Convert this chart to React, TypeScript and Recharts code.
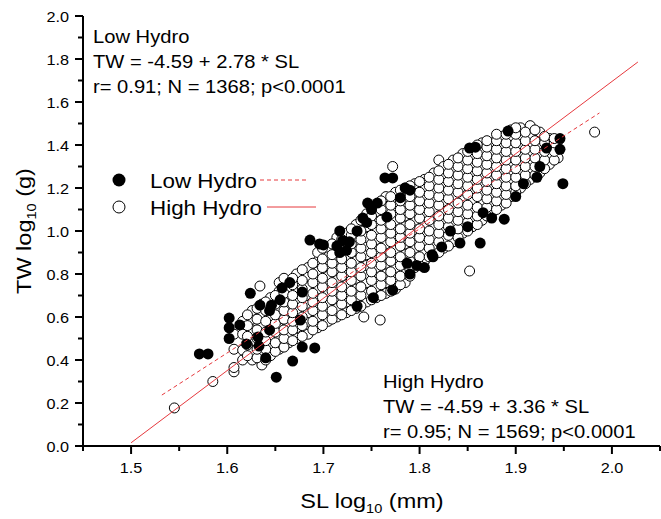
import { ScatterChart, Scatter, XAxis, YAxis } from 'recharts';

const FONT = '"Liberation Sans", Arial, Helvetica, sans-serif';
const RED = '#e6383d';
const SX = 1.12; // the reference type is a little wide

// High Hydro (open circles): x column -> y values
const highCols: [number, number[]][] = [
  [1.545, [0.177]],
  [1.585, [0.30]],
  [1.607, [0.345, 0.365, 0.45, 0.52]],
  [1.616, [0.40, 0.446, 0.52, 0.58]],
  [1.626, [0.40, 0.44, 0.49, 0.54, 0.59, 0.63]],
  [1.634, [0.744]],
  [1.636, [0.377, 0.43, 0.47, 0.52, 0.56, 0.61, 0.66]],
  [1.645, [0.42, 0.47, 0.51, 0.55, 0.60, 0.65, 0.69]],
  [1.654, [0.45, 0.50, 0.55, 0.59, 0.63, 0.68, 0.72, 0.76]],
  [1.664, [0.48, 0.52, 0.57, 0.61, 0.65, 0.69, 0.74]],
  [1.672, [0.50, 0.55, 0.59, 0.63, 0.68, 0.72, 0.76, 0.80]],
  [1.684, [0.52, 0.58, 0.62, 0.66, 0.70, 0.74, 0.79, 0.83]],
  [1.694, [0.55, 0.60, 0.64, 0.68, 0.73, 0.77, 0.81, 0.86, 0.90]],
  [1.705, [0.58, 0.62, 0.66, 0.71, 0.75, 0.79, 0.84, 0.88]],
  [1.714, [0.60, 0.64, 0.69, 0.73, 0.77, 0.82, 0.86, 0.90, 0.97]],
  [1.724, [0.62, 0.67, 0.71, 0.75, 0.80, 0.84, 0.88, 0.93, 0.99]],
  [1.734, [0.64, 0.69, 0.73, 0.78, 0.82, 0.86, 0.91, 0.95, 1.03]],
  [1.742, [0.60]],
  [1.745, [0.67, 0.71, 0.76, 0.80, 0.84, 0.89, 0.93, 0.97, 1.02, 1.08]],
  [1.755, [0.69, 0.74, 0.78, 0.83, 0.87, 0.91, 0.96, 1.00, 1.04, 1.09]],
  [1.759, [0.586]],
  [1.765, [0.71, 0.76, 0.80, 0.85, 0.89, 0.94, 0.98, 1.02, 1.07, 1.11, 1.16]],
  [1.772, [1.30]],
  [1.775, [0.73, 0.78, 0.83, 0.87, 0.91, 0.96, 1.00, 1.05, 1.09, 1.13, 1.18]],
  [1.785, [0.76, 0.80, 0.85, 0.89, 0.94, 0.98, 1.02, 1.07, 1.11, 1.15, 1.20]],
  [1.795, [0.83, 0.87, 0.92, 0.96, 1.00, 1.05, 1.09, 1.13, 1.18, 1.22]],
  [1.805, [0.86, 0.90, 0.94, 0.99, 1.03, 1.07, 1.12, 1.16, 1.20, 1.24]],
  [1.815, [0.89, 0.93, 0.97, 1.02, 1.06, 1.10, 1.14, 1.19, 1.23, 1.27]],
  [1.82, [1.33]],
  [1.825, [0.92, 0.96, 1.01, 1.05, 1.09, 1.13, 1.18, 1.22, 1.26, 1.30]],
  [1.835, [0.95, 0.99, 1.04, 1.08, 1.12, 1.16, 1.21, 1.25, 1.29, 1.33]],
  [1.845, [0.99, 1.03, 1.07, 1.11, 1.15, 1.20, 1.24, 1.28, 1.32, 1.36]],
  [1.852, [0.814]],
  [1.855, [1.02, 1.06, 1.10, 1.14, 1.19, 1.23, 1.27, 1.31, 1.35]],
  [1.865, [1.05, 1.09, 1.13, 1.17, 1.22, 1.26, 1.30, 1.34, 1.38, 1.41]],
  [1.875, [1.08, 1.12, 1.16, 1.21, 1.25, 1.29, 1.33, 1.37, 1.41]],
  [1.885, [1.12, 1.16, 1.20, 1.24, 1.28, 1.32, 1.36, 1.40, 1.44]],
  [1.895, [1.16, 1.19, 1.23, 1.27, 1.31, 1.35, 1.39, 1.43, 1.47]],
  [1.905, [1.20, 1.24, 1.28, 1.32, 1.36, 1.40, 1.44, 1.48]],
  [1.915, [1.24, 1.28, 1.32, 1.36, 1.40, 1.44, 1.49]],
  [1.925, [1.27, 1.31, 1.35, 1.39, 1.43, 1.46]],
  [1.935, [1.31, 1.35, 1.39, 1.43]],
  [1.944, [1.34, 1.38, 1.42]],
  [1.982, [1.46]],
];

// second, interleaved pass of the same cloud (the reference is a dense mesh)
const highColsB: [number, number[]][] = [
  [1.621, [0.42, 0.47, 0.51, 0.56, 0.61]],
  [1.631, [0.41, 0.45, 0.50, 0.54, 0.59, 0.64]],
  [1.640, [0.40, 0.45, 0.49, 0.53, 0.58, 0.63, 0.67]],
  [1.650, [0.44, 0.48, 0.53, 0.57, 0.61, 0.66, 0.70]],
  [1.659, [0.46, 0.50, 0.54, 0.59, 0.63, 0.67, 0.71, 0.78]],
  [1.668, [0.49, 0.54, 0.58, 0.62, 0.66, 0.70, 0.75, 0.78]],
  [1.678, [0.51, 0.56, 0.60, 0.65, 0.69, 0.73, 0.77, 0.82]],
  [1.689, [0.54, 0.58, 0.63, 0.67, 0.71, 0.76, 0.80, 0.85]],
  [1.699, [0.56, 0.61, 0.65, 0.69, 0.74, 0.78, 0.83, 0.87, 0.92]],
  [1.709, [0.59, 0.63, 0.68, 0.72, 0.76, 0.81, 0.85, 0.89, 0.94]],
  [1.719, [0.61, 0.66, 0.70, 0.74, 0.79, 0.83, 0.87, 0.92, 0.96]],
  [1.729, [0.63, 0.68, 0.72, 0.77, 0.81, 0.85, 0.90, 0.94, 0.98, 1.01]],
  [1.739, [0.65, 0.70, 0.74, 0.79, 0.83, 0.88, 0.92, 0.96, 1.00, 1.05]],
  [1.750, [0.68, 0.72, 0.77, 0.81, 0.85, 0.90, 0.94, 0.98, 1.03, 1.07, 1.11]],
  [1.760, [0.70, 0.75, 0.79, 0.84, 0.88, 0.92, 0.97, 1.01, 1.05, 1.10, 1.14]],
  [1.770, [0.72, 0.77, 0.81, 0.86, 0.90, 0.95, 0.99, 1.03, 1.08, 1.12, 1.16]],
  [1.780, [0.75, 0.79, 0.84, 0.88, 0.93, 0.97, 1.01, 1.06, 1.10, 1.14, 1.19]],
  [1.790, [0.79, 0.82, 0.86, 0.90, 0.95, 0.99, 1.03, 1.08, 1.12, 1.16, 1.21]],
  [1.800, [0.84, 0.88, 0.93, 0.97, 1.01, 1.06, 1.10, 1.14, 1.18, 1.23]],
  [1.810, [0.88, 0.92, 0.96, 1.00, 1.05, 1.09, 1.13, 1.17, 1.21, 1.25]],
  [1.820, [0.90, 0.95, 0.99, 1.03, 1.07, 1.12, 1.16, 1.20, 1.24, 1.28]],
  [1.830, [0.93, 0.98, 1.02, 1.06, 1.10, 1.15, 1.19, 1.23, 1.27, 1.31]],
  [1.840, [0.97, 1.01, 1.05, 1.09, 1.13, 1.18, 1.22, 1.26, 1.30, 1.34]],
  [1.850, [1.00, 1.04, 1.08, 1.12, 1.17, 1.21, 1.25, 1.29, 1.33, 1.37]],
  [1.860, [1.03, 1.07, 1.11, 1.16, 1.20, 1.24, 1.28, 1.32, 1.36, 1.40]],
  [1.870, [1.07, 1.11, 1.15, 1.19, 1.23, 1.27, 1.31, 1.35, 1.39, 1.42]],
  [1.880, [1.10, 1.14, 1.18, 1.22, 1.26, 1.30, 1.34, 1.38, 1.42, 1.45]],
  [1.890, [1.13, 1.17, 1.21, 1.25, 1.29, 1.33, 1.37, 1.41, 1.45]],
  [1.900, [1.18, 1.21, 1.25, 1.29, 1.33, 1.37, 1.41, 1.45, 1.48]],
  [1.910, [1.22, 1.26, 1.30, 1.34, 1.38, 1.42, 1.46]],
  [1.920, [1.26, 1.30, 1.34, 1.38, 1.42, 1.47]],
  [1.930, [1.29, 1.33, 1.37, 1.41, 1.44]],
  [1.940, [1.33, 1.37, 1.41, 1.43]],
];

// Low Hydro (filled circles) that show round the open cloud
const lowPts: [number, number][] = [
  [1.571, 0.428], [1.580, 0.428],
  [1.602, 0.50], [1.602, 0.55], [1.602, 0.595], [1.613, 0.563], [1.620, 0.475], [1.633, 0.465],
  [1.632, 0.507], [1.640, 0.41],
  [1.624, 0.71], [1.634, 0.655], [1.644, 0.63], [1.655, 0.68], [1.657, 0.735], [1.665, 0.76], [1.678, 0.716],
  [1.651, 0.32], [1.668, 0.395], [1.678, 0.46], [1.691, 0.456], [1.676, 0.586], [1.644, 0.54], [1.646, 0.655],
  [1.686, 0.958], [1.696, 0.94], [1.70, 0.935], [1.714, 0.93], [1.72, 0.955], [1.727, 0.95], [1.717, 0.90], [1.724, 0.91],
  [1.717, 1.0], [1.735, 1.0], [1.741, 1.06], [1.745, 1.04], [1.746, 1.13], [1.756, 1.13], [1.75, 1.10],
  [1.764, 1.247], [1.772, 1.247], [1.766, 1.065], [1.78, 1.155], [1.785, 1.20], [1.79, 1.19],
  [1.852, 1.386], [1.858, 1.39], [1.892, 1.465],
  [1.772, 0.725], [1.787, 0.85], [1.797, 0.84], [1.813, 0.89], [1.814, 0.88], [1.823, 0.926], [1.832, 1.0],
  [1.842, 0.944], [1.863, 0.944], [1.85, 1.02], [1.866, 1.085], [1.888, 1.055], [1.908, 1.22], [1.922, 1.25],
  [1.925, 1.30], [1.932, 1.386], [1.946, 1.43], [1.946, 1.38], [1.949, 1.22],
  [1.735, 0.65], [1.752, 0.69], [1.79, 0.80], [1.805, 0.83], [1.875, 1.06], [1.90, 1.16],
];

const lowFit = [{ x: 1.532, y: 0.237 }, { x: 1.987, y: 1.549 }];
const highFit = [{ x: 1.5, y: 0.015 }, { x: 2.027, y: 1.786 }];

const xTicks = [1.45, 1.5, 1.55, 1.6, 1.65, 1.7, 1.75, 1.8, 1.85, 1.9, 1.95, 2.0, 2.05];
const xLabels = [1.5, 1.6, 1.7, 1.8, 1.9, 2.0];
const yTicks = [0, 0.1, 0.2, 0.3, 0.4, 0.5, 0.6, 0.7, 0.8, 0.9, 1.0, 1.1, 1.2, 1.3, 1.4, 1.5, 1.6, 1.7, 1.8, 1.9, 2.0];
const yLabels = [0, 0.2, 0.4, 0.6, 0.8, 1.0, 1.2, 1.4, 1.6, 1.8, 2.0];

const topNote = ['Low Hydro', 'TW = -4.59 + 2.78 * SL', 'r= 0.91; N = 1368; p<0.0001'];
const bottomNote = ['High Hydro', 'TW = -4.59 + 3.36 * SL', 'r= 0.95; N = 1569; p<0.0001'];

const highData = [...highCols, ...highColsB].flatMap(([x, ys]) => ys.map(y => ({ x, y })));
const lowData = lowPts.map(([x, y]) => ({ x, y }));

const isMajor = (v: number, list: number[]) => list.some(m => Math.abs(m - v) < 1e-6);

function WideText({ x, y, size, anchor = 'start', children }: any) {
  return (
    <g transform={`translate(${x},${y}) scale(${SX},1)`}>
      <text x={0} y={0} fontSize={size} fontFamily={FONT} textAnchor={anchor} fill="#000">{children}</text>
    </g>
  );
}

function XTick({ x, y, payload }: any) {
  const major = isMajor(payload.value, xLabels);
  return (
    <g>
      <line x1={x} x2={x} y1={y} y2={y + (major ? 8 : 5)} stroke="#000" strokeWidth={2} />
      {major && <WideText x={x} y={y + 27} size={14.5} anchor="middle">{payload.value.toFixed(1)}</WideText>}
    </g>
  );
}

function YTick({ x, y, payload }: any) {
  const major = isMajor(payload.value, yLabels);
  return (
    <g>
      <line x1={x} x2={x - (major ? 8 : 5)} y1={y} y2={y} stroke="#000" strokeWidth={2} />
      {major && <WideText x={x - 14} y={y + 5.5} size={14.5} anchor="end">{payload.value.toFixed(1)}</WideText>}
    </g>
  );
}

const OpenDot = (p: any) => <circle cx={p.cx} cy={p.cy} r={5} fill="#fff" stroke="#000" strokeWidth={1} />;
const FilledDot = (p: any) => <circle cx={p.cx} cy={p.cy} r={5.5} fill="#000" />;
const NoDot = () => <g />;

export default function App() {
  return (
    <div style={{ position: 'absolute', left: 0, top: 0, width: 661, height: 519, background: '#fff' }}>
      <ScatterChart width={661} height={519} margin={{ top: 16, right: 1, bottom: 0, left: 0 }}>
        <XAxis
          type="number"
          dataKey="x"
          domain={[1.45, 2.05]}
          ticks={xTicks}
          interval={0}
          height={73}
          tickSize={0}
          tickMargin={0}
          tickLine={false}
          axisLine={{ stroke: '#000', strokeWidth: 2 }}
          tick={<XTick />}
          allowDataOverflow
        />
        <YAxis
          type="number"
          dataKey="y"
          domain={[0, 2]}
          ticks={yTicks}
          interval={0}
          width={83}
          tickSize={0}
          tickMargin={0}
          tickLine={false}
          axisLine={{ stroke: '#000', strokeWidth: 2 }}
          tick={<YTick />}
          allowDataOverflow
        />
        <Scatter name="High Hydro" data={highData} shape={OpenDot} isAnimationActive={false} />
        <Scatter name="Low Hydro" data={lowData} shape={FilledDot} isAnimationActive={false} />
        <Scatter data={lowFit} shape={NoDot} line={{ stroke: RED, strokeWidth: 1, strokeDasharray: '4 3' }} isAnimationActive={false} />
        <Scatter data={highFit} shape={NoDot} line={{ stroke: RED, strokeWidth: 1 }} isAnimationActive={false} />
      </ScatterChart>

      <svg width={661} height={519} style={{ position: 'absolute', left: 0, top: 0, pointerEvents: 'none' }}>
        {topNote.map((t, i) => (
          <WideText key={t} x={93} y={42.5 + i * 25.3} size={18}>{t}</WideText>
        ))}
        {bottomNote.map((t, i) => (
          <WideText key={t} x={383} y={387.5 + i * 25.3} size={18}>{t}</WideText>
        ))}

        <circle cx={119} cy={180} r={6.5} fill="#000" />
        <WideText x={150} y={188} size={20}>Low Hydro</WideText>
        <line x1={260} x2={308} y1={180} y2={180} stroke={RED} strokeWidth={1} strokeDasharray="4 3" />
        <circle cx={119} cy={207} r={6} fill="#fff" stroke="#000" strokeWidth={1} />
        <WideText x={150} y={215} size={20}>High Hydro</WideText>
        <line x1={267} x2={316} y1={207} y2={207} stroke={RED} strokeWidth={1} />

        <WideText x={372} y={508} size={21} anchor="middle">
          SL log<tspan fontSize={13} dy={5}>10</tspan><tspan dy={-5}> (mm)</tspan>
        </WideText>
        <g transform="translate(31,231) rotate(-90)">
          <WideText x={0} y={0} size={21} anchor="middle">
            TW log<tspan fontSize={13} dy={5}>10</tspan><tspan dy={-5}> (g)</tspan>
          </WideText>
        </g>
      </svg>
    </div>
  );
}
